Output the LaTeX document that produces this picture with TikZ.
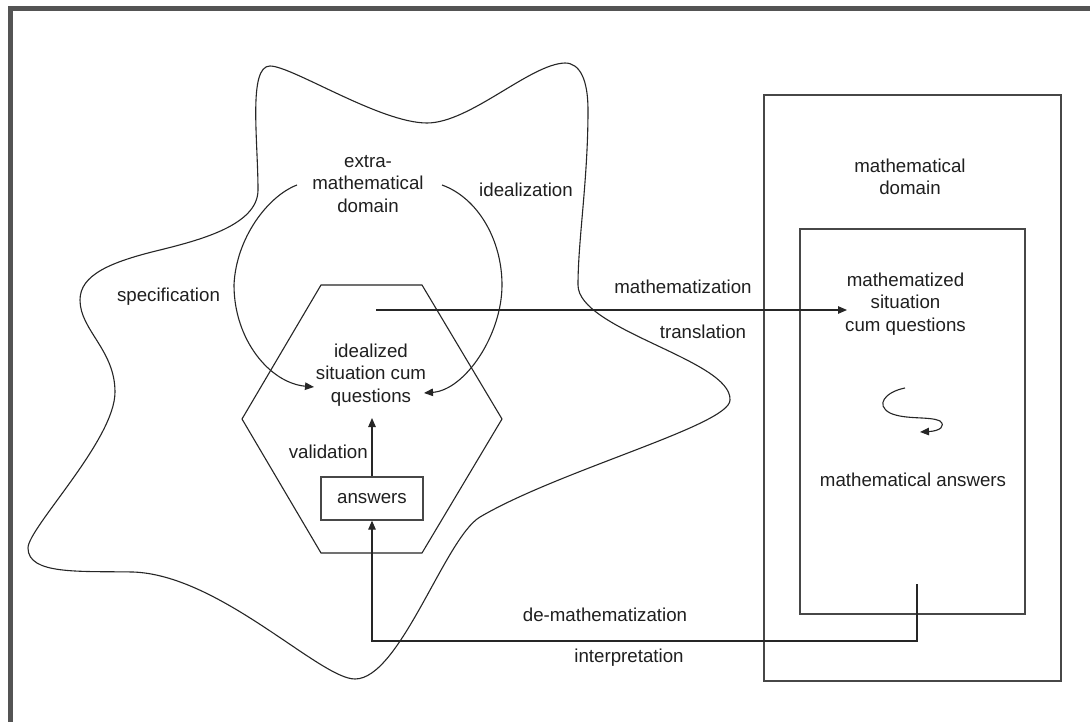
\documentclass[tikz,border=0pt]{standalone}
\usepackage{fontspec}
\setmainfont{Liberation Sans}
\usetikzlibrary{arrows.meta}
\tikzset{
  lbl/.style={font=\fontsize{18.7}{22.5}\selectfont, align=center, inner sep=0pt, text=black!88},
  arr/.style={-{Triangle[length=9pt,width=7.5pt]}},
  ln/.style={draw=black!85, line width=1.1pt},
  boxln/.style={draw=black!72, line width=1.3pt},
}
\begin{document}
\begin{tikzpicture}[x=1pt,y=-1pt]
\useasboundingbox (0,0) rectangle (1090,722);
\fill[white] (0,0) rectangle (1090,722);
% frame
\draw[line width=5pt, draw=black!67] (10.8,722) -- (10.8,8.6) -- (1090,8.6);

% blob
\draw[ln] (270,66) .. controls (292,66) and (380,123) .. (427,123)
  .. controls (470,123) and (530,64) .. (565,63)
  .. controls (580,63) and (588,80) .. (588,110)
  .. controls (588,180) and (578,240) .. (578,285)
  .. controls (578,330) and (732,360) .. (730,400)
  .. controls (730,425) and (560,470) .. (480,517)
  .. controls (445,538) and (400,679) .. (355,679)
  .. controls (320,679) and (220,575) .. (133,572)
  .. controls (80,571) and (28,575) .. (28,548)
  .. controls (28,528) and (115,440) .. (115,392)
  .. controls (115,350) and (80,330) .. (80,300)
  .. controls (80,275) and (110,262) .. (160,250)
  .. controls (200,240) and (258,225) .. (258,190)
  .. controls (258,140) and (248,66) .. (270,66) -- cycle;

% hexagon
\draw[ln] (321,285) -- (422,285) -- (502,419) -- (422,553) -- (321,553) -- (242,419) -- cycle;

% rectangles
\node[boxln, minimum width=297pt, minimum height=586pt, inner sep=0] (mdom) at (912.5,388) {};
\node[boxln, minimum width=225pt, minimum height=385pt, inner sep=0] (mrect) at (912.5,421.5) {};

% texts
\node[lbl] (extra) at (368,184) {extra-\\mathematical\\domain};
\node[lbl] (ideal) at (526,190) {idealization};
\node[lbl] (spec) at (168.5,297) {specification};
\node[lbl] (idq) at (371,375) {idealized\\situation cum\\questions};
\node[lbl, anchor=east] (valid) at (368,452) {validation};
\node[boxln, lbl, minimum width=102pt, minimum height=43pt] (ans) at (372,498.5) {answers};
\node[lbl] (mathz) at (683,287) {mathematization};
\node[lbl] (transl) at (703,332) {translation};
\node[lbl] (mdomt) at (910,177) {mathematical\\domain};
\node[lbl] (mzq) at (905.5,304) {mathematized\\situation\\cum questions};
\node[lbl] (mans) at (913,480) {mathematical answers};
\node[lbl] (demath) at (605,615) {de-mathematization};
\node[lbl] (interp) at (629,658) {interpretation};

% arcs
\draw[ln, arr] (297,185) .. controls (268,196) and (236,238) .. (234,285)
  .. controls (234,340) and (270,383) .. (314,387);
\draw[ln, arr] (442,185) .. controls (478,198) and (502,240) .. (502,285)
  .. controls (502,335) and (465,390) .. (424,393);

% validation
\coordinate (valtip) at (372,418);
\draw[ln, arr] (ans.north) -- (valtip);

% mathematization arrow
\coordinate (mstart) at (376,310);
\coordinate (mtip) at (847,310);
\draw[ln, arr] (mstart) -- (mtip);

% de-mathematization connector
\coordinate (dstart) at (917,584);
\coordinate (dcorner) at (917,641);
\draw[ln, arr] (dstart) -- (dcorner) -| (ans.south);

% squiggle
\coordinate (sqs) at (905,388);
\coordinate (sqe) at (920,432);
\draw[ln, arr] (sqs) .. controls (885,392) and (875,405) .. (890,413)
  .. controls (905,420) and (930,416) .. (940,421)
  .. controls (946,426) and (940,431) .. (sqe);
\end{tikzpicture}
\end{document}
